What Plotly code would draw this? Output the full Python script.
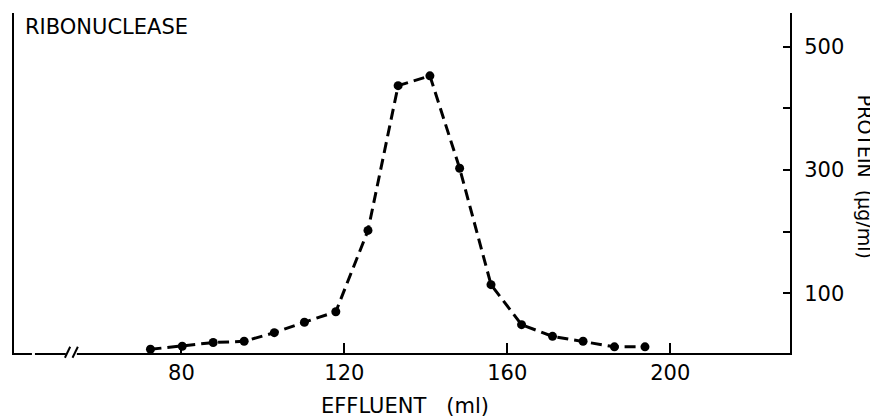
import plotly.graph_objects as go

# Data
effluent_ml = [72.4, 80.2, 87.8, 95.4, 102.8, 110.2, 117.9, 125.8, 133.2, 141.0,
               148.3, 156.0, 163.5, 171.1, 178.6, 186.3, 193.8]
protein_ug_ml = [9, 14, 20, 22, 36, 53, 70, 202, 437, 453,
                 303, 114, 49, 30, 22, 13, 13]

x_tick_vals = [80, 120, 160, 200]
x_tick_text = ["80", "120", "160", "200"]
y_tick_vals = [100, 200, 300, 400, 500]
y_tick_text = ["100", "", "300", "", "500"]

FONT = "DejaVu Sans"

fig = go.Figure()
fig.add_trace(go.Scatter(
    x=effluent_ml, y=protein_ug_ml, mode="lines+markers",
    line=dict(color="black", width=3, dash="11px,6px"),
    marker=dict(color="black", size=9),
    showlegend=False, hoverinfo="skip",
))

# page has an 8px body margin: figure is offset by (8, 8)
fig.update_layout(
    width=870, height=410,
    margin=dict(l=4, r=88, t=5, b=65),
    paper_bgcolor="white", plot_bgcolor="white",
    font=dict(family=FONT, color="black", size=21),
    xaxis=dict(
        range=[38.9, 229.4], tickvals=x_tick_vals, ticktext=x_tick_text,
        ticks="inside", ticklen=10, tickwidth=2, tickcolor="black",
        showline=True, linecolor="black", linewidth=2,
        showgrid=False, zeroline=False, ticklabelstandoff=0,
        tickfont=dict(family=FONT, size=21, color="black"),
    ),
    yaxis=dict(
        range=[3, 555], side="right", tickvals=y_tick_vals, ticktext=y_tick_text,
        ticks="inside", ticklen=7, tickwidth=2, tickcolor="black",
        showline=True, mirror=True, linecolor="black", linewidth=2,
        showgrid=False, zeroline=False, ticklabelstandoff=8,
        tickfont=dict(family=FONT, size=21, color="black"),
    ),
)

# axis break marks
shapes = [
    dict(type="rect", xref="paper", yref="paper", x0=0.0231, x1=0.0270, y0=-0.01, y1=0.01,
         fillcolor="white", line=dict(width=0), layer="above"),
    dict(type="rect", xref="paper", yref="paper", x0=0.0668, x1=0.0810, y0=-0.01, y1=0.01,
         fillcolor="white", line=dict(width=0), layer="above"),
    dict(type="line", xref="paper", yref="paper", x0=0.0656, x1=0.0724, y0=-0.0138, y1=0.0185,
         line=dict(color="black", width=2), layer="above"),
    dict(type="line", xref="paper", yref="paper", x0=0.0754, x1=0.0823, y0=-0.0138, y1=0.0185,
         line=dict(color="black", width=2), layer="above"),
]
fig.update_layout(shapes=shapes)

fig.add_annotation(text="RIBONUCLEASE", xref="paper", yref="paper", x=0.0115, y=0.9588,
                   xanchor="left", yanchor="middle", showarrow=False,
                   font=dict(family=FONT, size=21, color="black"))
fig.add_annotation(text="EFFLUENT\u00a0\u00a0\u00a0(ml)", xref="paper", yref="paper", x=0.5039, y=-0.157,
                   xanchor="center", yanchor="middle", showarrow=False,
                   font=dict(family=FONT, size=21, color="black"))
fig.add_annotation(text="PROTEIN\u00a0\u00a0(\u03bcg/ml)", xref="paper", yref="paper", x=1.097, y=0.5176,
                   xanchor="center", yanchor="middle", textangle=90, showarrow=False,
                   borderpad=0,
                   font=dict(family=FONT, size=19, color="black"))

fig.write_html("out.html")
